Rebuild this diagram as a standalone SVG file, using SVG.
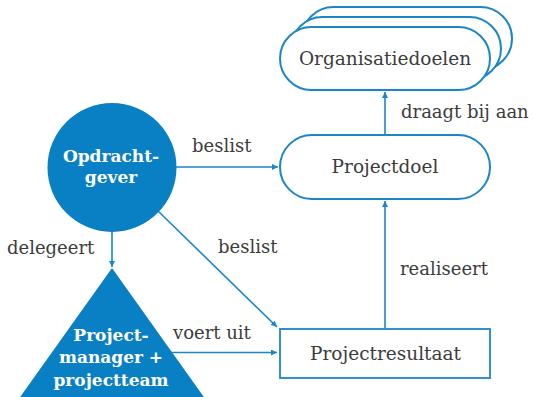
<svg xmlns="http://www.w3.org/2000/svg" width="533" height="397" viewBox="0 0 533 397">
<style>
.pill{fill:#fff;stroke:#1a86c8;stroke-width:2}
.box{fill:#fff;stroke:#1a86c8;stroke-width:1.8}
.lbl{font-family:"DejaVu Serif","Liberation Serif",serif;font-size:18px;fill:#3c3c3c}
.ntxt{font-family:"DejaVu Serif","Liberation Serif",serif;font-size:18.5px;fill:#3c3c3c;text-anchor:middle}
.wtxt{font-family:"DejaVu Serif","Liberation Serif",serif;font-size:17px;font-weight:bold;fill:#fff;text-anchor:middle}
.con{stroke:#1a86c8;stroke-width:1.6;fill:none;marker-end:url(#ah)}
</style>
<defs>
<marker id="ah" viewBox="0 0 10 10" refX="10" refY="5" markerWidth="6" markerHeight="6" markerUnits="userSpaceOnUse" orient="auto">
<path d="M0,0 L10,5 L0,10 z" fill="#1a86c8"/>
</marker>
</defs>
<rect width="533" height="397" fill="#fff"/>
<g id="connectors">
<line class="con" x1="176" y1="167" x2="278" y2="167"/>
<line class="con" x1="112" y1="232" x2="112" y2="267"/>
<line class="con" x1="158" y1="211" x2="277" y2="327"/>
<line class="con" x1="171" y1="352.5" x2="277" y2="352.5"/>
<line class="con" x1="385" y1="328" x2="385" y2="201"/>
<line class="con" x1="385" y1="134" x2="385" y2="92"/>
</g>
<g id="organisatiedoelen">
<rect class="pill" x="302" y="7" width="210" height="63" rx="31.5"/>
<rect class="pill" x="291" y="17" width="210" height="63" rx="31.5"/>
<rect class="pill" x="280" y="27" width="210" height="63" rx="31.5"/>
<text class="ntxt" x="385" y="65">Organisatiedoelen</text>
</g>
<g id="projectdoel">
<rect class="pill" x="280" y="135" width="210" height="64" rx="32"/>
<text class="ntxt" x="385" y="173">Projectdoel</text>
</g>
<g id="projectresultaat">
<rect class="box" x="280" y="329" width="210" height="49"/>
<text class="ntxt" x="385.5" y="360">Projectresultaat</text>
</g>
<g id="opdrachtgever">
<circle cx="112" cy="167.5" r="64.5" fill="#0a80c4"/>
<text class="wtxt" x="111" y="162">Opdracht-</text>
<text class="wtxt" x="111" y="183">gever</text>
</g>
<g id="projectmanager">
<polygon points="112,268 18,400 206,400" fill="#0a80c4"/>
<text class="wtxt" x="111" y="341">Project-</text>
<text class="wtxt" x="111" y="363">manager +</text>
<text class="wtxt" x="111" y="386">projectteam</text>
</g>
<g id="labels">
<text class="lbl" x="192" y="152">beslist</text>
<text class="lbl" x="218" y="253">beslist</text>
<text class="lbl" x="7" y="254">delegeert</text>
<text class="lbl" x="173" y="339">voert uit</text>
<text class="lbl" x="400" y="275">realiseert</text>
<text class="lbl" x="401" y="118">draagt bij aan</text>
</g>
</svg>
